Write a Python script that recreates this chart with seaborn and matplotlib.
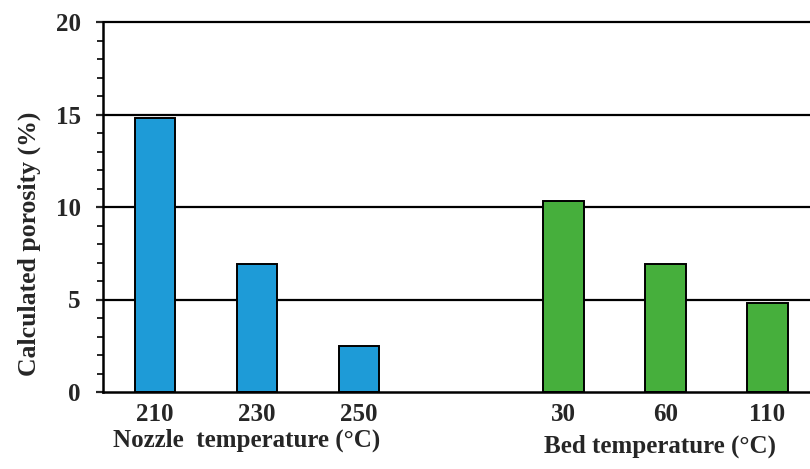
import matplotlib
matplotlib.use("Agg")
import matplotlib.pyplot as plt
from matplotlib.ticker import MultipleLocator
import seaborn as sns
import pandas as pd

# Porosity measured for each printing condition
nozzle_temps = ["210", "230", "250"]
nozzle_porosity = [14.8, 6.9, 2.5]
bed_temps = ["30", "60", "110"]
bed_porosity = [10.3, 6.9, 4.8]
group_titles = ["Nozzle  temperature (°C)", "Bed temperature (°C)"]
y_ticks = [0, 5, 10, 15, 20]

blue = "#1E9BD7"
green = "#46AF3C"

# Bars of the second group sit after one empty slot
positions = list(range(len(nozzle_temps))) + [len(nozzle_temps) + 1 + i for i in range(len(bed_temps))]
df = pd.DataFrame({
    "pos": positions,
    "label": nozzle_temps + bed_temps,
    "porosity": nozzle_porosity + bed_porosity,
    "group": ["nozzle"] * len(nozzle_temps) + ["bed"] * len(bed_temps),
})

sns.set_theme(style="white")
plt.rcParams["font.family"] = ["Liberation Serif", "DejaVu Serif"]
plt.rcParams["font.weight"] = "bold"

fig = plt.figure(figsize=(8.10, 4.69), dpi=100)
ax = fig.add_axes([103 / 810, 1 - 392 / 469, 1 - 103 / 810, (392 - 22) / 469])

for val in y_ticks[1:]:
    ax.axhline(val, color="black", lw=1.6, zorder=0, clip_on=False)

sns.barplot(data=df, x="pos", y="porosity", hue="group", native_scale=True,
            palette={"nozzle": blue, "bed": green}, saturation=1, width=0.4,
            dodge=False, edgecolor="black", linewidth=1.4, legend=False,
            ax=ax, zorder=2)

ax.set_xlim(-0.51, 6.42)
ax.set_ylim(0, 20)
ax.set_xticks(positions)
ax.set_xticklabels(df["label"], fontsize=18, fontweight="bold")
ax.set_yticks(y_ticks)
ax.set_yticklabels([str(v) for v in y_ticks], fontsize=18, fontweight="bold")
ax.yaxis.set_minor_locator(MultipleLocator(1))
ax.tick_params(axis="y", which="major", left=True, length=5, width=1.6, direction="out", pad=11)
ax.tick_params(axis="y", which="minor", left=True, length=4.5, width=1.4, direction="out")
ax.tick_params(axis="x", bottom=False, length=0, pad=8)

ax.set_xlabel("")
ax.set_ylabel("Calculated porosity (%)", fontsize=18.5, fontweight="bold")
ax.yaxis.set_label_coords((29 - 103) / 707, 0.40)
ax.yaxis.label.set_va("center")

for side in ["top", "right"]:
    ax.spines[side].set_visible(False)
for side in ["left", "bottom"]:
    ax.spines[side].set_color("black")
    ax.spines[side].set_linewidth(1.8)

# Group titles under the tick labels
ax.text(0.9, -0.13, group_titles[0], transform=ax.get_xaxis_transform(),
        ha="center", va="center", fontsize=18, fontweight="bold")
ax.text(4.95, -0.148, group_titles[1], transform=ax.get_xaxis_transform(),
        ha="center", va="center", fontsize=18, fontweight="bold")

fig.savefig("out.png", dpi=100, facecolor="white")
